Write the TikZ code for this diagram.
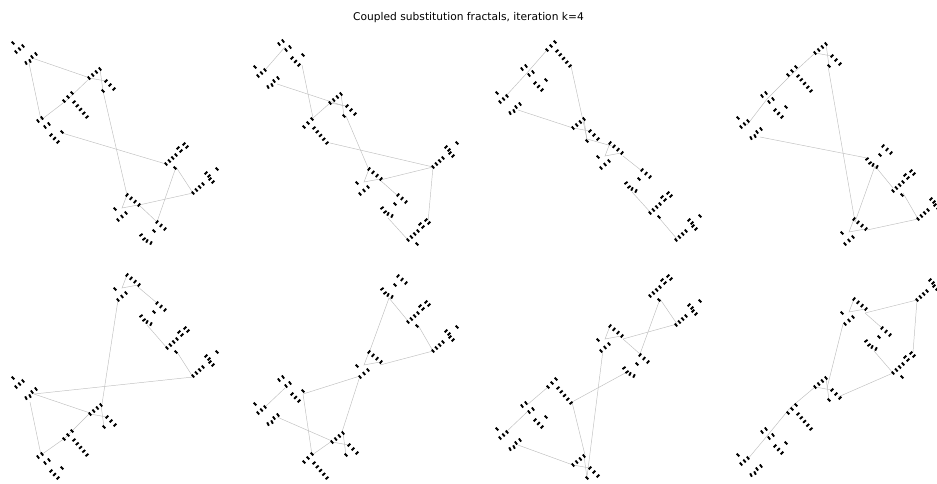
\documentclass[tikz,border=0pt]{standalone}
\usepackage{fontspec}
\setmainfont{DejaVu Sans}
\definecolor{linkgray}{RGB}{192,192,192}
\newcommand\rw[5]{%
  \pgfmathsetmacro\mkdx{(#3)-(#1)}%
  \pgfmathsetmacro\mkdy{(#4)-(#2)}%
  \pgfmathsetmacro\mkln{max(veclen(\mkdx,\mkdy),0.01)}%
  \pgfmathsetmacro\mknx{-1.9*(\mkdy)/\mkln}%
  \pgfmathsetmacro\mkny{1.9*(\mkdx)/\mkln}%
  \foreach \k in {1,...,#5}{%
    \pgfmathsetmacro\mkt{(\k-1)/max(#5-1,1)}%
    \draw[mk] ({(#1)+\mkt*(\mkdx)-(\mknx)},{(#2)+\mkt*(\mkdy)-(\mkny)}) -- ({(#1)+\mkt*(\mkdx)+(\mknx)},{(#2)+\mkt*(\mkdy)+(\mkny)});
  }}
\begin{document}
\begin{tikzpicture}[x=0.03cm, y=-0.03cm,
  mk/.style={line width=1.6pt, black},
  link/.style={draw=linkgray, line width=0.4pt},
  ttl/.style={font=\fontsize{9.1}{11}\selectfont, inner sep=0pt},
  tone/.pic={\rw{0}{3}{4}{0}{2}\rw{7}{9}{11}{6}{2}\rw{13}{17}{20}{24}{3}\rw{24}{14}{25}{13}{1}},
  ttwo/.pic={\rw{0}{0}{1}{-1}{1}\rw{3}{9}{10}{3}{3}\rw{19}{14}{23}{11}{2}\rw{13}{20}{17}{18}{2}},
  tthree/.pic={\rw{0}{8}{8}{0}{3}\rw{10}{9}{23}{24}{5}},
  tfour/.pic={\draw[link] (0,0) -- (17,3) (11,-9) -- (14,13);
    \rw{0}{0}{11}{-9}{4}\rw{17}{3}{25}{11}{3}\rw{14}{13}{15}{12}{1}},
  tfive/.pic={\draw[link] (12,-14) -- (7,-1) -- (23,-4);
    \rw{0}{0}{1}{-1}{1}\rw{12}{-14}{24}{-4}{4}\rw{3}{11}{11}{4}{3}},
  tsix/.pic={\rw{0}{0}{10}{-9}{4}\rw{13}{-20}{16}{-17}{2}\rw{17}{-14}{20}{-11}{2}\rw{24}{-24}{25}{-25}{1}},
  tseven/.pic={\rw{0}{0}{10}{-9}{4}\rw{12}{-16}{15}{-13}{2}\rw{18}{-20}{21}{-17}{2}\rw{9}{4}{10}{3}{1}},
  teight/.pic={\rw{0}{0}{8}{7}{3}\rw{-3}{9}{-2}{8}{1}\rw{-16}{13}{-13}{17}{2}\rw{-10}{19}{-6}{21}{2}}]
\path[use as bounding box] (0,0) rectangle (937,484);
\node[ttl] (title) at (468.5,18) {Coupled substitution fractals, iteration k=4};
\foreach \n/\x/\y in {a1/32/58, a1s/29/63, b1/90/78, b1s/103/91, c1/67/100, d1/41/120, d1s/62/133,
    e1/166/164, e1s/176/167, f1/193/193, g1/127/195, g1s/139/205, h1/157/222,
    a2/285/47, a2s/302/65, b2/265/70, b2s/277/84, c2/330/103, c2m/344/106, c2s/346/116, d2/313/118,
    d2s/330/143, e2/369/170, e2t/380/180, f2/433/167, g2/398/196, g2s/388/218, h2/408/240, h2t/428/222,
    a3/547/50, a3s/571/66, b3/526/74, c3/505/97, c3s/518/110, d3/573/128, d3s/587/139, e3/612/146,
    e3t/623/156, f3/642/171, f3s/632/192, g3/651/213, g3s/660/219, h3/677/239,
    a4/815/53, a4s/828/66, b4/790/76, c4/767/99, d4/747/125, d4s/760/137, e4/867/158, e4s/875/166,
    f4/893/188, f4s/903/193, g4/918/219, h4/855/222, h4t/867/230,
    a5/138/287, a5s/118/300, b5/157/303, b5s/147/325, c5/167/348, c5s/177/352, d5/193/377, e5/34/394,
    e5s/30/402, f5/90/413, f5t/102/404, g5/65/438, h5/41/455,
    a6/389/298, b6/408/321, b6s/418/325, c6/433/351, d6/369/353, d6t/380/365, d6s/360/376, e6/285/388,
    e6s/303/394, f6/265/407, f6s/277/417, g6/332/441, g6t/342/432, h6/312/455,
    a7/660/299, b7/677/324, c7/623/339, c7s/603/350, d7/640/354, d7s/627/372, e7/548/387, e7s/572/402,
    f7/527/405, f7s/527/412, g7/505/433, g7s/518/445, h7/573/465, h7s/587/477, h7t/585/455,
    a8/917/300, b8/865/313, b8s/843/324, c8/882/328, c8s/874/351, d8/893/373, d8t/913/352, e8/815/387,
    e8s/827/388, e8t/838/397, f8/790/408, g8/767/436, h8/747/460}
  \coordinate (\n) at (\x,\y);
\foreach \u/\v in {a1/b1, a1s/d1, b1/c1, c1/d1, b1s/g1, d1s/e1, e1s/h1, e1s/f1, f1/g1s, g1s/h1,
    a2/b2, a2s/d2, b2s/c2m, d2/c2, d2s/f2, c2s/e2, e2t/f2, e2t/g2, f2/h2t, g2s/h2,
    a3/b3, b3/c3, a3s/d3s, c3s/d3, d3s/e3, e3t/f3, f3s/g3, g3s/h3,
    a4/b4, a4s/h4, b4/c4, c4/d4, d4s/e4, e4s/h4, e4s/f4, f4s/g4, h4t/g4,
    a5/b5, a5s/f5t, b5s/c5, c5s/d5, d5/e5, e5/f5, e5s/h5, f5/g5, g5/h5,
    a6/d6, a6/b6, b6s/c6, c6/d6t, d6s/e6s, d6s/g6t, e6/f6, e6s/h6, f6s/g6, g6/h6,
    a7/d7, a7/b7, b7/c7, c7s/h7s, c7/d7, d7s/e7s, e7/f7, e7s/h7t, f7s/g7, g7s/h7,
    a8/b8, a8/d8t, b8/c8, b8s/e8s, c8s/d8, d8/e8t, e8/f8, f8/g8, g8/h8}
  \draw[link] (\u) -- (\v);
\pic at (38,118) {tone};   \pic at (13,43) {ttwo};   \pic at (64,93) {tthree};  \pic at (89,78) {tfour};
\pic at (115,209) {tfive}; \pic at (193,193) {tsix}; \pic at (166,164) {tseven}; \pic at (157,222) {teight};
\pic at (279,41) {tone};   \pic at (255,67) {ttwo};  \pic at (304,119) {tthree}; \pic at (330,103) {tfour};
\pic at (357,183) {tfive}; \pic at (433,167) {tsix}; \pic at (408,240) {tseven}; \pic at (398,195) {teight};
\pic at (522,66) {tone};   \pic at (497,93) {ttwo};  \pic at (547,42) {tthree};  \pic at (573,128) {tfour};
\pic at (598,157) {tfive}; \pic at (676,240) {tsix}; \pic at (650,213) {tseven}; \pic at (642,170) {teight};
\pic at (762,93) {tone};   \pic at (738,118) {ttwo}; \pic at (788,67) {tthree};  \pic at (815,53) {tfour};
\pic at (842,233) {tfive}; \pic at (918,219) {tsix}; \pic at (893,191) {tseven}; \pic at (883,146) {teight};
\pic at (38,454) {tone};   \pic at (13,378) {ttwo};  \pic at (64,431) {tthree};  \pic at (90,414) {tfour};
\pic at (115,289) {tfive}; \pic at (193,376) {tsix}; \pic at (167,348) {tseven}; \pic at (157,303) {teight};
\pic at (279,377) {tone};  \pic at (255,404) {ttwo}; \pic at (304,454) {tthree}; \pic at (332,442) {tfour};
\pic at (357,366) {tfive}; \pic at (433,351) {tsix}; \pic at (408,322) {tseven}; \pic at (398,276) {teight};
\pic at (522,403) {tone};  \pic at (497,429) {ttwo}; \pic at (548,379) {tthree}; \pic at (573,465) {tfour};
\pic at (598,340) {tfive}; \pic at (676,325) {tsix}; \pic at (650,296) {tseven}; \pic at (640,355) {teight};
\pic at (762,429) {tone};  \pic at (738,455) {ttwo}; \pic at (788,405) {tthree}; \pic at (815,387) {tfour};
\pic at (842,313) {tfive}; \pic at (917,300) {tsix}; \pic at (893,373) {tseven}; \pic at (882,328) {teight};
\end{tikzpicture}
\end{document}
